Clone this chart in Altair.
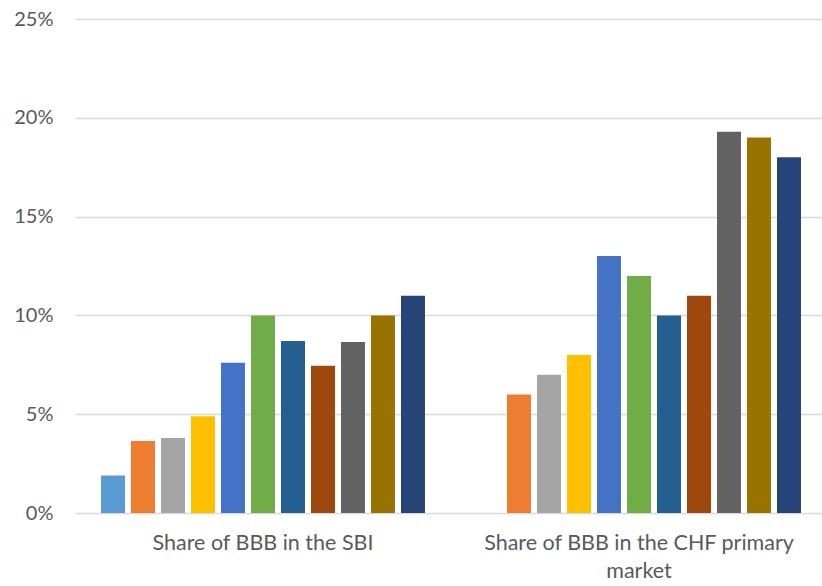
import altair as alt
import pandas as pd

# Two groups of bars, one bar per series, shares in percent
categories = ["Share of BBB in the SBI", "Share of BBB in the CHF primary market"]
series = ["S01", "S02", "S03", "S04", "S05", "S06", "S07", "S08", "S09", "S10", "S11"]
sbi_share = [1.9, 3.65, 3.8, 4.9, 7.6, 10.0, 8.7, 7.45, 8.65, 10.0, 11.0]
primary_share = [None, 6.0, 7.0, 8.0, 13.0, 12.0, 10.0, 11.0, 19.3, 19.0, 18.0]
colors = ["#5B9BD5", "#ED7D31", "#A5A5A5", "#FFC000", "#4472C4", "#70AD47",
          "#255E91", "#9E480E", "#636363", "#997300", "#264478"]

rows = []
for cat, vals in zip(categories, [sbi_share, primary_share]):
    for s, v in zip(series, vals):
        rows.append({"category": cat, "series": s,
                     "share": None if v is None else v / 100})
df = pd.DataFrame(rows)

font = "Lato"
text_color = "#595959"

chart = (
    alt.Chart(df)
    .mark_bar()
    .encode(
        x=alt.X(
            "category:N",
            sort=categories,
            scale=alt.Scale(paddingInner=0, paddingOuter=0, range=[0, 752]),
            axis=alt.Axis(
                title=None,
                labelAngle=0,
                ticks=False,
                domain=False,
                labelPadding=19,
                labelLineHeight=28,
                labelLimit=500,
                labelFontSize=21.5,
                labelExpr="datum.value == 'Share of BBB in the CHF primary market' ? "
                          "['Share of BBB in the CHF primary', 'market'] : datum.value",
            ),
        ),
        xOffset=alt.XOffset(
            "series:N",
            sort=series,
            scale=alt.Scale(domain=series, paddingInner=0.2, paddingOuter=0.867),
        ),
        y=alt.Y(
            "share:Q",
            scale=alt.Scale(domain=[0, 0.25], nice=False),
            axis=alt.Axis(
                title=None,
                format=".0%",
                values=[0, 0.05, 0.10, 0.15, 0.20, 0.25],
                domain=False,
                ticks=False,
                labelPadding=22,
                labelFontSize=20,
                gridColor="#d9d9d9",
                gridWidth=1.5,
            ),
        ),
        color=alt.Color("series:N", sort=series,
                        scale=alt.Scale(domain=series, range=colors), legend=None),
    )
    .properties(
        width=747,
        height=494,
        background="white",
        autosize=alt.AutoSizeParams(type="none"),
        padding={"left": 75, "top": 19, "right": 0, "bottom": 73},
    )
    .configure_view(stroke=None)
    .configure_axis(
        labelFont=font,
        labelColor=text_color,
    )
)

chart.save("out.html", embed_options={"renderer": "svg", "actions": False})
